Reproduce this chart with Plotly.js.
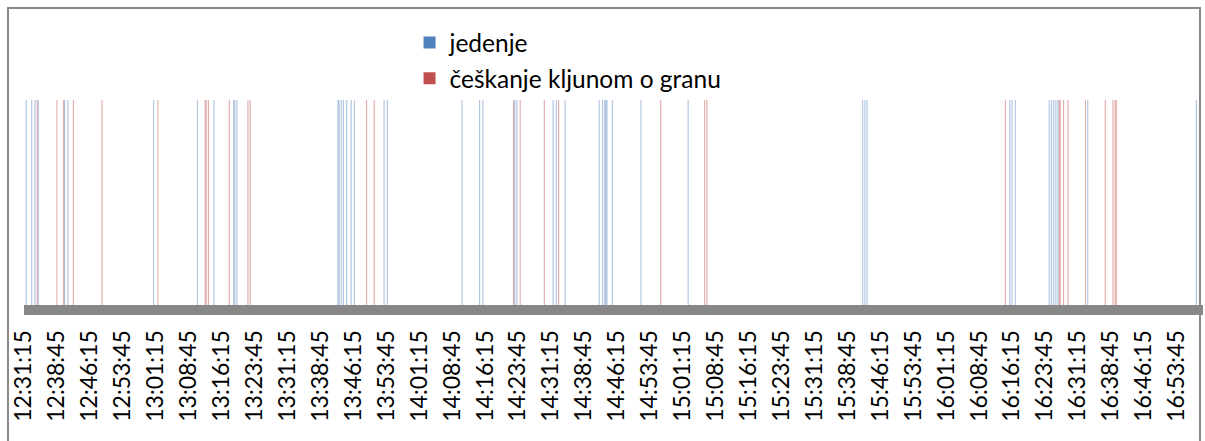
<!DOCTYPE html>
<html>
<head>
<meta charset="utf-8">
<script src="https://cdn.plot.ly/plotly-3.0.1.min.js"></script>
<style>
  html, body { margin: 0; padding: 0; background: #ffffff; }
  #chart { position: absolute; left: 0; top: 0; width: 1205px; height: 441px; }
  #frame { position: absolute; left: 7px; top: 7px; width: 1194px; height: 500px;
           border: 2px solid #8a8a8a; pointer-events: none; box-sizing: border-box; }
</style>
</head>
<body>
<div id="chart"></div>
<div id="frame"></div>
<script>
// Series names
const seriesNames = ["jedenje", "češkanje kljunom o granu"];

// Event times
const jedenjeTimes = [
  "12:31:45","12:33:00","12:33:45","12:34:30","12:40:30","12:41:15","13:00:45","13:10:45",
  "13:14:30","13:19:00","13:19:15","13:19:45","13:42:45","13:43:00","13:43:30","13:44:00",
  "13:44:45","13:45:45","13:46:30","13:53:15","13:54:00","14:11:00","14:15:00","14:15:45",
  "14:23:00","14:23:30","14:31:45","14:32:30","14:34:30","14:42:15","14:43:00","14:43:30",
  "14:43:45","14:44:00","14:45:15","14:51:45","15:02:30","15:42:15","15:42:45","15:43:15",
  "16:15:45","16:16:15","16:17:00","16:24:45","16:25:15","16:25:45","16:26:15","16:26:45",
  "16:33:30","16:58:15"
];
const jedenjeValues = [
  1,1,1,1,1,1,1,1,1,1,1,1,1,1,1,1,1,1,1,1,1,1,1,1,1,1,1,1,1,1,1,1,1,1,1,1,1,1,1,1,
  1,1,1,1,1,1,1,1,1,1
];

const ceskanjeTimes = [
  "12:34:15","12:38:45","12:40:15","12:42:30","12:49:00","13:01:45","13:12:30","13:12:45",
  "13:13:15","13:18:00","13:22:15","13:22:45","13:49:15","13:51:00","14:22:45","14:24:15",
  "14:29:45","14:33:00","14:56:15","15:06:15","15:06:45","16:14:45","16:27:00","16:27:15",
  "16:28:00","16:29:00","16:33:00","16:37:30","16:39:15","16:39:45","16:40:00"
];
const ceskanjeValues = [
  1,1,1,1,1,1,1,1,1,1,1,1,1,1,1,1,1,1,1,1,1,1,1,1,1,1,1,1,1,1,1
];

// Axis settings
const axisStart = "12:31:15";
const axisEnd = "16:59:45";
const tickStepMs = 450000; // 7 min 30 s

const day = "2024-01-01 ";
const toDate = t => day + t;

const traces = [
  {
    type: "bar", name: seriesNames[0], legendgroup: "a",
    x: jedenjeTimes.map(toDate), y: jedenjeValues,
    width: 16000,
    marker: { color: "#4F81BD", opacity: 0.45, line: { width: 0 } },
    hoverinfo: "x+name"
  },
  {
    type: "bar", name: seriesNames[1], legendgroup: "b",
    x: ceskanjeTimes.map(toDate), y: ceskanjeValues,
    width: 16000,
    marker: { color: "#C0504D", opacity: 0.45, line: { width: 0 } },
    hoverinfo: "x+name"
  }
];

const layout = {
  width: 1205, height: 441,
  margin: { l: 24, r: 2, t: 100, b: 136, pad: 0 },
  paper_bgcolor: "#ffffff", plot_bgcolor: "#ffffff",
  barmode: "overlay",
  font: { family: "Lato, 'Open Sans', sans-serif", color: "#000000" },
  showlegend: true,
  legend: {
    x: 0.327, xanchor: "left", y: 1.39, yanchor: "top",
    orientation: "v", traceorder: "grouped", tracegroupgap: 1,
    font: { size: 24.5, color: "#000000" },
    bgcolor: "rgba(0,0,0,0)", borderwidth: 0
  },
  xaxis: {
    type: "date",
    range: [toDate(axisStart), toDate(axisEnd)],
    tick0: toDate(axisStart), dtick: tickStepMs,
    tickformat: "%H:%M:%S", tickangle: -90,
    ticks: "", showgrid: false, zeroline: false,
    showline: true, linecolor: "#878787", linewidth: 10,
    tickfont: { size: 23, color: "#000000" },
    ticklabelstandoff: 6
  },
  yaxis: {
    range: [0, 1], showgrid: false, zeroline: false, showline: false,
    showticklabels: false, ticks: "", fixedrange: true
  }
};

Plotly.newPlot("chart", traces, layout, { staticPlot: true, displayModeBar: false });
</script>
</body>
</html>
